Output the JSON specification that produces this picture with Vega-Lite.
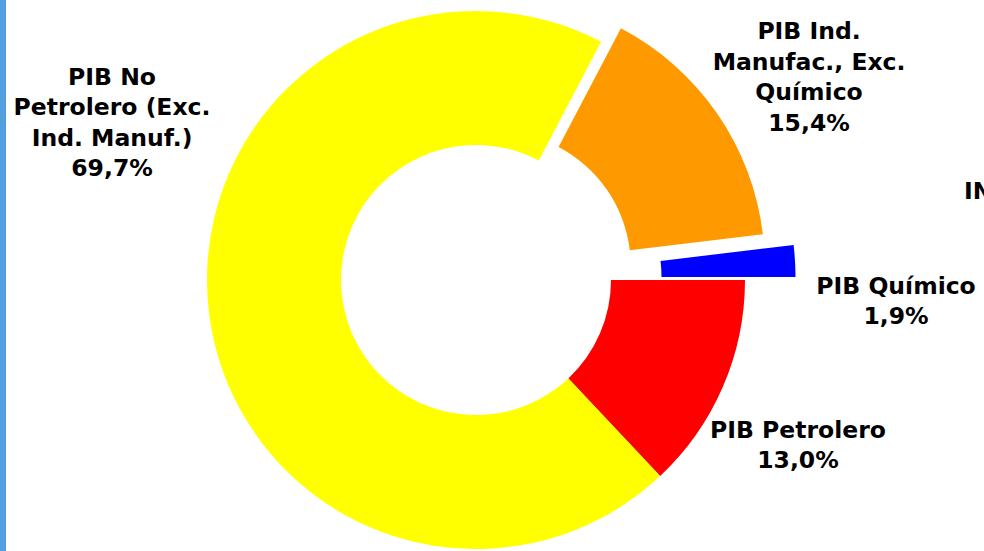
{
  "$schema": "https://vega.github.io/schema/vega-lite/v6.json",
  "autosize": {"type": "none"},
  "width": 952,
  "height": 542,
  "padding": {"left": 0, "top": 9, "right": 32, "bottom": 0},
  "background": "white",
  "config": {"view": {"stroke": null}},
  "title": {
    "text": "INDICADORES",
    "orient": "top",
    "anchor": "end",
    "align": "left",
    "frame": "group",
    "baseline": "middle",
    "dx": 12,
    "dy": 222,
    "font": "DejaVu Sans",
    "fontSize": 23.5,
    "fontWeight": "bold",
    "color": "#000000"
  },
  "data": {
    "values": [
      {"orden": 1, "nombre": "PIB Petrolero", "valor": 13.0, "etiqueta": "PIB Petrolero\n13,0%"},
      {"orden": 2, "nombre": "PIB No Petrolero (Exc. Ind. Manuf.)", "valor": 69.7, "etiqueta": "PIB No\nPetrolero (Exc.\nInd. Manuf.)\n69,7%"},
      {"orden": 3, "nombre": "PIB Ind. Manufac., Exc. Químico", "valor": 15.4, "etiqueta": "PIB Ind.\nManufac., Exc.\nQuímico\n15,4%"},
      {"orden": 4, "nombre": "PIB Químico", "valor": 1.9, "etiqueta": "PIB Químico\n1,9%"}
    ]
  },
  "transform": [
    {"stack": "valor", "groupby": [], "sort": [{"field": "orden", "order": "ascending"}], "as": ["v0", "v1"]}
  ],
  "encoding": {
    "theta": {"field": "v0", "type": "quantitative", "scale": {"domain": [0, 100], "range": [1.5707963, 7.8539816]}},
    "color": {
      "field": "nombre",
      "type": "nominal",
      "legend": null,
      "scale": {
        "domain": ["PIB Petrolero", "PIB No Petrolero (Exc. Ind. Manuf.)", "PIB Ind. Manufac., Exc. Químico", "PIB Químico"],
        "range": ["#FF0000", "#FFFF00", "#FF9900", "#0000FF"]
      }
    }
  },
  "layer": [
    {
      "transform": [{"filter": "datum.orden <= 2"}],
      "mark": {"type": "arc", "innerRadius": 135, "outerRadius": 269},
      "encoding": {"theta2": {"field": "v1"}}
    },
    {
      "transform": [{"filter": "datum.orden == 3"}],
      "mark": {"type": "arc", "innerRadius": 135, "outerRadius": 269, "xOffset": 19.8, "yOffset": -13.6},
      "encoding": {"theta2": {"field": "v1"}}
    },
    {
      "transform": [{"filter": "datum.orden == 4"}],
      "mark": {"type": "arc", "innerRadius": 135, "outerRadius": 269, "xOffset": 50.5, "yOffset": -3},
      "encoding": {"theta2": {"field": "v1"}}
    },
    {
      "transform": [{"filter": "datum.orden == 1"}],
      "mark": {"type": "text", "radius": 355.6, "thetaOffset": 0.4384, "align": "center", "baseline": "middle", "lineBreak": "\n", "lineHeight": 30.5, "font": "DejaVu Sans", "fontSize": 23.5, "fontWeight": "bold"},
      "encoding": {"text": {"field": "etiqueta"}, "color": {"value": "#000000"}}
    },
    {
      "transform": [{"filter": "datum.orden == 2"}],
      "mark": {"type": "text", "radius": 416.3, "thetaOffset": 2.8315, "align": "center", "baseline": "middle", "lineBreak": "\n", "lineHeight": 30.5, "font": "DejaVu Sans", "fontSize": 23.5, "fontWeight": "bold"},
      "encoding": {"text": {"field": "etiqueta"}, "color": {"value": "#000000"}}
    },
    {
      "transform": [{"filter": "datum.orden == 3"}],
      "mark": {"type": "text", "radius": 415.2, "thetaOffset": 0.447, "align": "center", "baseline": "middle", "lineBreak": "\n", "lineHeight": 30.5, "font": "DejaVu Sans", "fontSize": 23.5, "fontWeight": "bold"},
      "encoding": {"text": {"field": "etiqueta"}, "color": {"value": "#000000"}}
    },
    {
      "transform": [{"filter": "datum.orden == 4"}],
      "mark": {"type": "text", "radius": 420.1, "thetaOffset": 0.136, "align": "center", "baseline": "middle", "lineBreak": "\n", "lineHeight": 30.5, "font": "DejaVu Sans", "fontSize": 23.5, "fontWeight": "bold"},
      "encoding": {"text": {"field": "etiqueta"}, "color": {"value": "#000000"}}
    },
    {
      "data": {"values": [{"marco": "borde"}]},
      "transform": [],
      "mark": {"type": "rule", "color": "#519FDF", "strokeWidth": 6},
      "encoding": {"theta": null, "color": null, "x": {"value": 3}, "y": {"value": -9}, "y2": {"value": 542}}
    }
  ]
}
